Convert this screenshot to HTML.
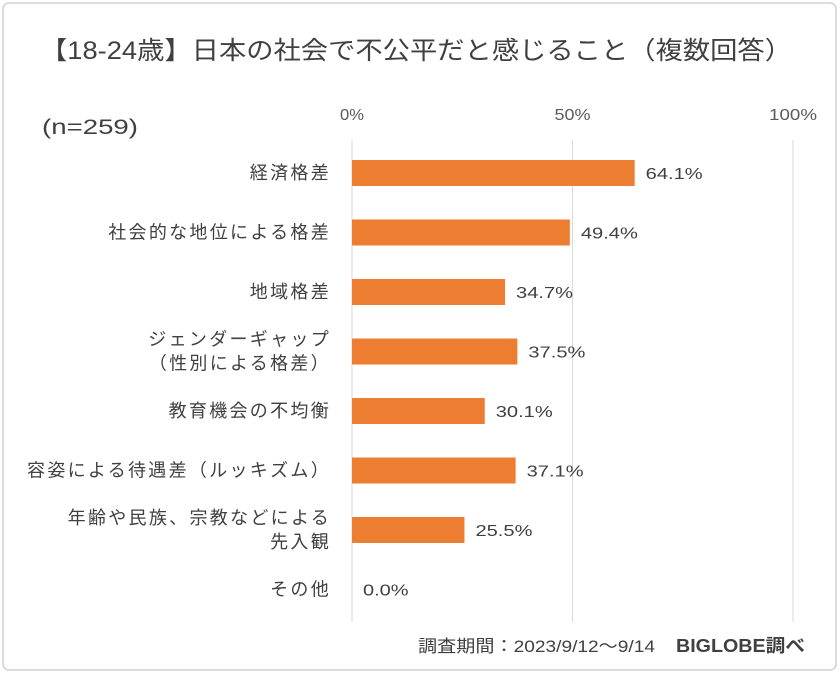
<!DOCTYPE html>
<html><head><meta charset="utf-8"><style>
body{margin:0;background:#fff;}
svg{display:block;font-family:"Liberation Sans","Noto Sans CJK JP",sans-serif;}
</style></head><body>
<svg width="840" height="674">
<rect x="3" y="3" width="833" height="667" rx="6" fill="#fff" stroke="#d0d0d0" stroke-width="1.5"/>
<text x="40" y="59" font-size="25" fill="#404040" textLength="752" lengthAdjust="spacingAndGlyphs">【18-24歳】日本の社会で不公平だと感じること（複数回答）</text>
<text x="42" y="134" font-size="21" fill="#404040" textLength="96" lengthAdjust="spacingAndGlyphs">(n=259)</text>
<g id="grid"></g><g id="bars"></g><g id="labels"></g>
<text x="418" y="652" font-size="17" fill="#404040" textLength="237" lengthAdjust="spacingAndGlyphs">調査期間：2023/9/12～9/14</text>
<text x="676" y="652" font-size="18" font-weight="bold" fill="#404040" textLength="129" lengthAdjust="spacingAndGlyphs">BIGLOBE調べ</text>
</svg>
<script>
const categories=[["経済格差"],["社会的な地位による格差"],["地域格差"],["ジェンダーギャップ","（性別による格差）"],["教育機会の不均衡"],["容姿による待遇差（ルッキズム）"],["年齢や民族、宗教などによる","先入観"],["その他"]];
const values=[64.1,49.4,34.7,37.5,30.1,37.1,25.5,0.0];
const ticks=[0,50,100];
const ns="http://www.w3.org/2000/svg";
const x=v=>352+v*4.41;
const y=i=>173+i*59.5;
function mk(t,a,p,txt){const e=document.createElementNS(ns,t);for(const k in a)e.setAttribute(k,a[k]);if(txt!==undefined)e.textContent=txt;document.getElementById(p).appendChild(e);return e;}
ticks.forEach(t=>{
const l=mk('line',{x1:x(t),x2:x(t),y1:140,y2:622,stroke:'#d9d9d9','stroke-width':1},'grid');


const s=t+'%';
const tx=mk('text',{x:x(t),y:120,'text-anchor':'middle','font-size':16,fill:'#595959',textLength:s.length*12,lengthAdjust:'spacingAndGlyphs'},'grid',s);


});
values.forEach((v,i)=>{
const r=mk('rect',{x:x(0),y:y(i)-13,width:x(v)-x(0),height:26,fill:'#ed7d31'},'bars');


const s=v.toFixed(1)+'%';
const vt=mk('text',{x:x(v)+11,y:y(i)+6,'font-size':16,fill:'#404040',textLength:s.length*11.4,lengthAdjust:'spacingAndGlyphs'},'labels',s);


const lines=categories[i];
lines.forEach((c,j)=>{
const yy=y(i)+6+(j-(lines.length-1)/2)*24;
const ct=mk('text',{x:331,y:yy,'text-anchor':'end','font-size':18,fill:'#404040','letter-spacing':2.3},'labels',c);


});
});
</script>
</body></html>
